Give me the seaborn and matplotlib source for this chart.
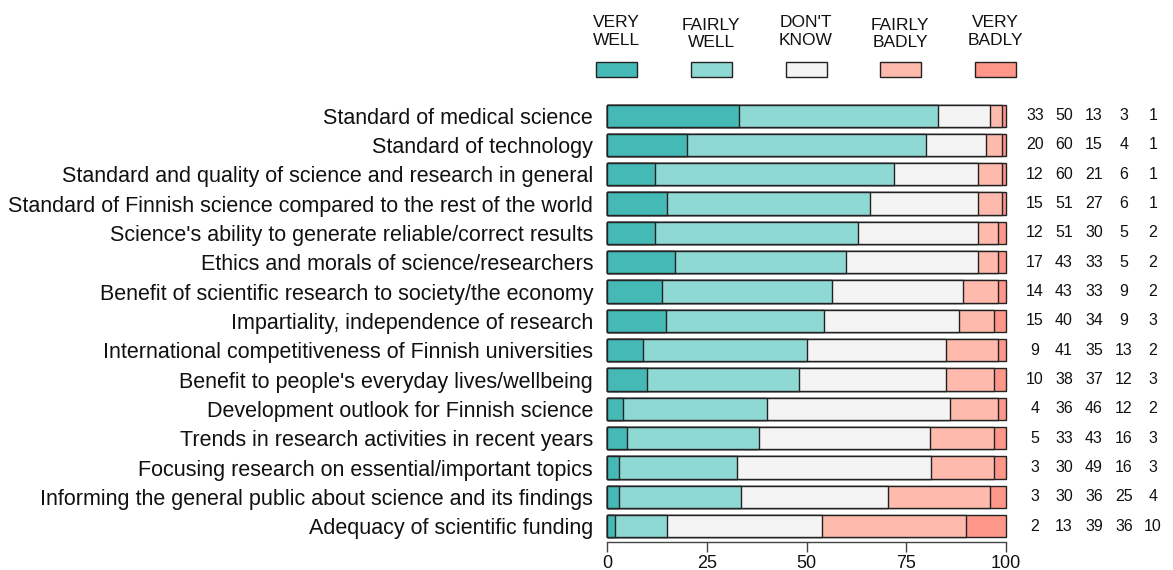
import numpy as np
import pandas as pd
import matplotlib
matplotlib.use("Agg")
import matplotlib.pyplot as plt
import matplotlib.transforms as mtransforms
from matplotlib.patches import Rectangle
import seaborn as sns

# --- Data ---
items = [
    "Standard of medical science",
    "Standard of technology",
    "Standard and quality of science and research in general",
    "Standard of Finnish science compared to the rest of the world",
    "Science's ability to generate reliable/correct results",
    "Ethics and morals of science/researchers",
    "Benefit of scientific research to society/the economy",
    "Impartiality, independence of research",
    "International competitiveness of Finnish universities",
    "Benefit to people's everyday lives/wellbeing",
    "Development outlook for Finnish science",
    "Trends in research activities in recent years",
    "Focusing research on essential/important topics",
    "Informing the general public about science and its findings",
    "Adequacy of scientific funding",
]
very_well = [33, 20, 12, 15, 12, 17, 14, 15, 9, 10, 4, 5, 3, 3, 2]
fairly_well = [50, 60, 60, 51, 51, 43, 43, 40, 41, 38, 36, 33, 30, 30, 13]
dont_know = [13, 15, 21, 27, 30, 33, 33, 34, 35, 37, 46, 43, 49, 36, 39]
fairly_badly = [3, 4, 6, 6, 5, 5, 9, 9, 13, 12, 12, 16, 16, 25, 36]
very_badly = [1, 1, 1, 1, 2, 2, 2, 3, 2, 3, 2, 3, 3, 4, 10]

answer_labels = ["VERY\nWELL", "FAIRLY\nWELL", "DON'T\nKNOW", "FAIRLY\nBADLY", "VERY\nBADLY"]
colors = ["#45B9B5", "#8FD9D4", "#F4F4F4", "#FFBAAE", "#FF968A"]

df = pd.DataFrame({
    "item": items,
    "vw": very_well, "fw": fairly_well, "dk": dont_know,
    "fb": fairly_badly, "vb": very_badly,
})
cols = ["vw", "fw", "dk", "fb", "vb"]

# bars are drawn as shares of 100 (rounded figures sum to 99-101)
share = df[cols].div(df[cols].sum(axis=1), axis=0) * 100
cum = share.cumsum(axis=1)
cum["item"] = df["item"]

# --- Plot ---
sns.set_style("white")
plt.rcParams["font.family"] = ["Liberation Sans", "DejaVu Sans"]

fig = plt.figure(figsize=(11.73, 5.70), dpi=100)
ax = fig.add_axes([607 / 1173, 1 - 542 / 570, 399 / 1173, 441 / 570])

# stacked bars: draw cumulative totals from the right end back to the left
for col, color in reversed(list(zip(cols, colors))):
    sns.barplot(data=cum, x=col, y="item", orient="h", color=color,
                width=0.76, edgecolor="#222222", linewidth=1.0,
                saturation=1, ax=ax)

for p in ax.patches:
    p.set_clip_on(False)

ax.set_xlim(0, 100)
ax.set_ylim(14.54, -0.5)
ax.set_xlabel("")
ax.set_ylabel("")
ax.set_xticks([0, 25, 50, 75, 100])
ax.tick_params(axis="x", direction="out", length=7, width=1, color="#444444",
               labelsize=13, labelcolor="#111111", pad=2, bottom=True)
ax.tick_params(axis="y", length=0, labelsize=15.5, labelcolor="#111111", pad=10)
for s in ["top", "right", "left"]:
    ax.spines[s].set_visible(False)
ax.spines["bottom"].set_bounds(0, 100)
ax.spines["bottom"].set_color("#444444")
ax.spines["bottom"].set_linewidth(1)

# numbers to the right of the bars
trans = mtransforms.blended_transform_factory(fig.transFigure, ax.transData)
num_x = [1035, 1064, 1094, 1124, 1153]
for i in range(len(items)):
    for j, col in enumerate(cols):
        ax.text(num_x[j] / 1173, i, str(df[col][i]), transform=trans,
                ha="center", va="center", fontsize=11.5, color="#111111")

# legend on top: labels above colour boxes
leg_x = [616, 711, 806, 900, 995]
leg_y = [31.5, 34, 31.5, 34, 31.5]
for lx, ly, lab, color in zip(leg_x, leg_y, answer_labels, colors):
    fig.patches.append(Rectangle(((lx - 20.5) / 1173, 1 - 77 / 570), 41 / 1173, 15 / 570,
                                 transform=fig.transFigure, facecolor=color,
                                 edgecolor="#222222", linewidth=1))
    fig.text(lx / 1173, 1 - ly / 570, lab, ha="center", va="center",
             fontsize=12.5, linespacing=1.2, color="#111111")

fig.savefig("out.png", dpi=100)
